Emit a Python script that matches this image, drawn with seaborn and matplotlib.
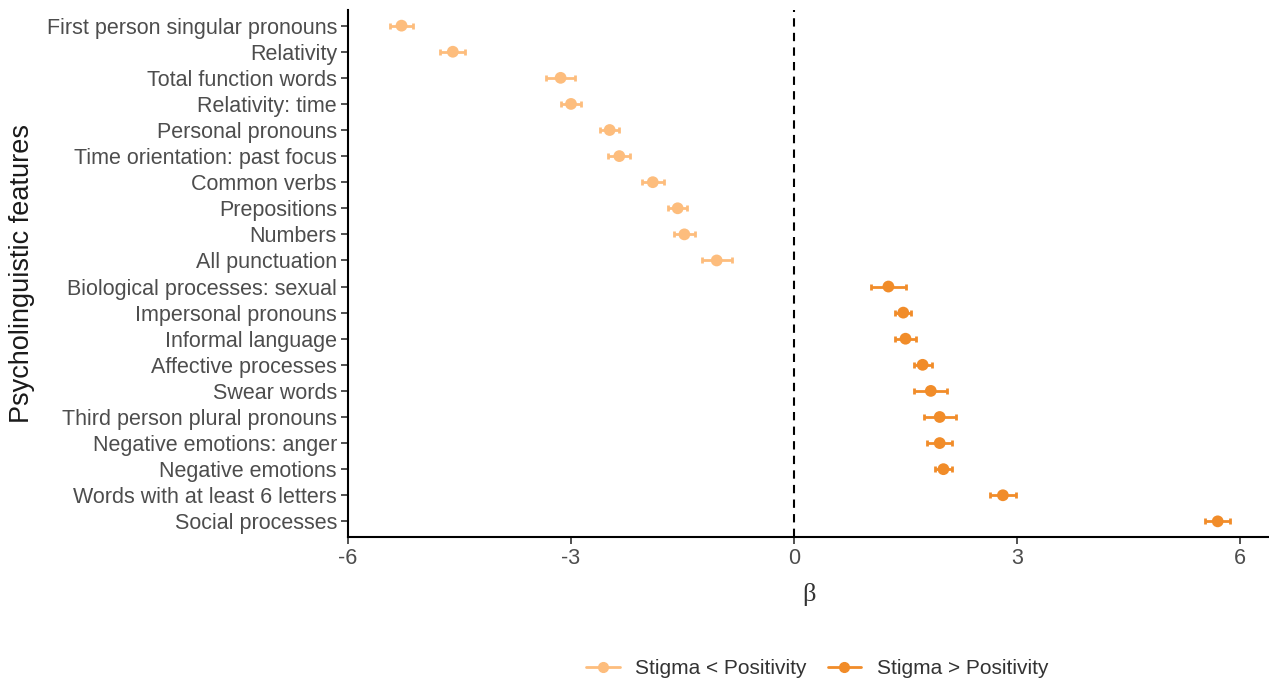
import matplotlib
matplotlib.use("Agg")
import matplotlib.pyplot as plt
import seaborn as sns
import pandas as pd
from matplotlib.lines import Line2D

features = [
    "First person singular pronouns", "Relativity", "Total function words",
    "Relativity: time", "Personal pronouns", "Time orientation: past focus",
    "Common verbs", "Prepositions", "Numbers", "All punctuation",
    "Biological processes: sexual", "Impersonal pronouns", "Informal language",
    "Affective processes", "Swear words", "Third person plural pronouns",
    "Negative emotions: anger", "Negative emotions", "Words with at least 6 letters",
    "Social processes",
]
beta = [-5.28, -4.59, -3.14, -3.00, -2.48, -2.35, -1.90, -1.565, -1.475, -1.04,
        1.27, 1.47, 1.50, 1.73, 1.84, 1.96, 1.96, 2.01, 2.81, 5.70]
half_ci = [0.15, 0.17, 0.20, 0.13, 0.13, 0.15, 0.15, 0.13, 0.14, 0.20,
           0.24, 0.11, 0.14, 0.12, 0.22, 0.215, 0.17, 0.115, 0.18, 0.17]
groups = ["Stigma < Positivity"] * 10 + ["Stigma > Positivity"] * 10
group_order = ["Stigma < Positivity", "Stigma > Positivity"]
colors = ["#FDBD7D", "#F18C29"]

df = pd.DataFrame({"feature": features, "beta": beta, "ci": half_ci, "group": groups})

sns.set_theme(style="ticks")
plt.rcParams["font.family"] = ["Liberation Sans", "DejaVu Sans"]

fig = plt.figure(figsize=(12.69, 6.8), dpi=100)
ax = fig.add_axes([348 / 1269, 1 - 537 / 680, 1 - 348 / 1269, (537 - 10) / 680])

palette = dict(zip(group_order, colors))
ax.axvline(0, color="black", linestyle=(0, (4, 3)), linewidth=1.5, zorder=1)
for g in group_order:
    sub = df[df["group"] == g]
    ax.errorbar(sub["beta"], sub["feature"], xerr=sub["ci"], fmt="none",
                ecolor=palette[g], elinewidth=2, capsize=2.5, capthick=2, zorder=2)
sns.scatterplot(data=df, x="beta", y="feature", hue="group", hue_order=group_order,
                palette=palette, s=72, edgecolor="none", ax=ax, legend=False, zorder=3)

ax.set_ylim(len(features) - 0.4, -0.6)
ax.set_xlim(-6, 6.39)
ax.set_xticks([-6, -3, 0, 3, 6])
ax.set_xticklabels(["-6", "-3", "0", "3", "6"])
ax.tick_params(axis="both", labelsize=15.5, labelcolor="#4D4D4D", color="#333333",
               length=5, width=1.2, direction="out", pad=3)
for s in ["left", "bottom"]:
    ax.spines[s].set_linewidth(1.5)
    ax.spines[s].set_color("black")
sns.despine(ax=ax)

ax.set_xlabel("β", fontsize=19, family=["Liberation Serif", "DejaVu Serif"],
              color="#333333", labelpad=10)
ax.set_ylabel("Psycholinguistic features", fontsize=19.5, color="#1a1a1a", labelpad=8)

handles = [Line2D([0], [0], color=c, marker="o", markersize=7, linewidth=2) for c in colors]
fig.legend(handles, group_order, loc="lower center", bbox_to_anchor=(0.644, -0.025),
           ncol=2, frameon=False, fontsize=15, handlelength=1.6, columnspacing=1.0,
           handletextpad=0.75, labelcolor="#333333")

fig.savefig("out.png", dpi=100)
